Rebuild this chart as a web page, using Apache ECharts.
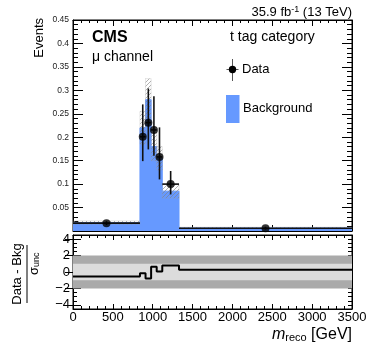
<!DOCTYPE html>
<html>
<head>
<meta charset="utf-8">
<script src="https://cdn.jsdelivr.net/npm/echarts@6/dist/echarts.min.js"></script>
<style>
  html, body { margin: 0; padding: 0; background: #fff; }
  #chart { width: 374px; height: 351px; }
</style>
</head>
<body>
<div id="chart"></div>
<script>
// bin edges in m_reco [GeV]
const binEdges = [0, 840, 910, 980, 1050, 1120, 1330, 3500];
// background prediction and its uncertainty per bin
const bkgValues = [0.018, 0.22, 0.28, 0.18, 0.155, 0.085, 0.0065];
const bkgUnc = [0.0035, 0.035, 0.045, 0.03, 0.025, 0.015, 0.0015];
// data points per bin
const dataValues = [0.0167, 0.201, 0.231, 0.2155, 0.158, 0.1, 0.006];
const dataErrUp = [0.004, 0.069, 0.073, 0.072, 0.063, 0.028, 0.003];
const dataErrDown = [0.004, 0.052, 0.057, 0.055, 0.048, 0.022, 0.003];
// (data - bkg) / sigma per bin
const pullValues = [-0.55, -0.15, -0.8, 0.65, 0.05, 0.78, 0.27];
// pull panel bands
const pullBands = [2, 1];
const ratioTickLabels = [-4, -2, 0, 2, 4];

const BLUE = '#6699ff';

function makeHatch() {
  const c = document.createElement('canvas');
  c.width = 4; c.height = 4;
  const ctx = c.getContext('2d');
  ctx.strokeStyle = 'rgba(130,130,130,0.7)';
  ctx.lineWidth = 0.9;
  ctx.beginPath();
  ctx.moveTo(-1, 5); ctx.lineTo(5, -1);
  ctx.moveTo(-1, 1); ctx.lineTo(1, -1);
  ctx.moveTo(3, 5); ctx.lineTo(5, 3);
  ctx.stroke();
  return c;
}

const bins = bkgValues.map((v, i) => ({ x0: binEdges[i], x1: binEdges[i + 1] }));

// step line data (left edges + last edge)
const bkgSteps = bkgValues.map((v, i) => [binEdges[i], v]);
bkgSteps.push([binEdges[binEdges.length - 1], bkgValues[bkgValues.length - 1]]);
const pullSteps = pullValues.map((v, i) => [binEdges[i], v]);
pullSteps.push([binEdges[binEdges.length - 1], pullValues[pullValues.length - 1]]);

const uncData = bins.map((b, i) => [b.x0, b.x1, bkgValues[i] - bkgUnc[i], bkgValues[i] + bkgUnc[i]]);
const errData = bins.map((b, i) => [b.x0, b.x1, (b.x0 + b.x1) / 2, dataValues[i],
  dataValues[i] - dataErrDown[i], dataValues[i] + dataErrUp[i]]);
const pointData = bins.map((b, i) => [(b.x0 + b.x1) / 2, dataValues[i]]);

const chart = echarts.init(document.getElementById('chart'));
const hatch = makeHatch();

const line = { show: true, onZero: false, lineStyle: { color: '#000', width: 1 } };

function xAx(grid, pos, labels, major, minor) {
  return {
    type: 'value', gridIndex: grid, position: pos, min: 0, max: 3500, interval: 500,
    axisLine: line, splitLine: { show: false },
    axisTick: { show: true, inside: true, length: major, lineStyle: { color: '#000' } },
    minorTick: { show: true, splitNumber: 5, length: minor, lineStyle: { color: '#000' } },
    axisLabel: labels ? {
      show: true, fontSize: 13, color: '#000', margin: 2, fontFamily: 'Liberation Sans',
      formatter: v => String(v)
    } : { show: false }
  };
}

const topY = (pos, labels) => ({
  type: 'value', gridIndex: 0, position: pos, min: 0, max: 0.45, interval: 0.05,
  axisLine: line, splitLine: { show: false },
  axisTick: { show: true, inside: true, length: 10, lineStyle: { color: '#000' } },
  minorTick: { show: true, splitNumber: 5, length: 5, lineStyle: { color: '#000' } },
  axisLabel: labels ? {
    show: true, fontSize: 8.5, color: '#222', margin: 4, fontFamily: 'Liberation Sans',
    formatter: v => (v === 0 ? '' : String(+v.toFixed(2)))
  } : { show: false }
});

// ratio y: minor ticks every 0.5 and major ticks via customValues
const ratioMinor = pos => ({
  type: 'value', gridIndex: 1, position: pos, min: -4.5, max: 4.5, interval: 0.5,
  axisLine: line, splitLine: { show: false },
  axisTick: { show: true, inside: true, length: 4, lineStyle: { color: '#000' } },
  axisLabel: { show: false }
});
const ratioMajor = (pos, labels) => ({
  type: 'value', gridIndex: 1, position: pos, min: -4.5, max: 4.5, interval: 0.5,
  axisLine: { show: false }, splitLine: { show: false },
  axisTick: { show: true, inside: true, length: 8, customValues: ratioTickLabels, lineStyle: { color: '#000' } },
  axisLabel: labels ? {
    show: true, fontSize: 13, color: '#000', margin: 3, fontFamily: 'Liberation Sans',
    customValues: ratioTickLabels, formatter: v => String(v).replace('-', '\u2212')
  } : { show: false }
});

const option = {
  animation: false,
  textStyle: { fontFamily: 'Liberation Sans' },
  grid: [
    { left: 73, top: 20, width: 279, height: 211, show: true, borderColor: '#000', borderWidth: 1, containLabel: false, outerBoundsMode: 'none' },
    { left: 73, top: 235, width: 279, height: 74, show: true, borderColor: '#000', borderWidth: 1, containLabel: false, outerBoundsMode: 'none' }
  ],
  xAxis: [
    xAx(0, 'bottom', false, 6, 3),
    xAx(0, 'top', false, 6, 3),
    xAx(1, 'bottom', true, 5, 3),
    xAx(1, 'top', false, 5, 3)
  ],
  yAxis: [
    topY('left', true),
    topY('right', false),
    ratioMinor('left'),
    ratioMinor('right'),
    ratioMajor('left', true),
    ratioMajor('right', false)
  ],
  series: [
    {
      name: 'Background', type: 'line', xAxisIndex: 0, yAxisIndex: 0, step: 'end',
      symbol: 'none', data: bkgSteps, z: 1,
      lineStyle: { color: BLUE, width: 1 },
      areaStyle: { color: BLUE, opacity: 1 }
    },
    {
      name: 'Unc', type: 'custom', xAxisIndex: 0, yAxisIndex: 0, data: uncData, z: 2,
      renderItem: (params, api) => {
        const p0 = api.coord([api.value(0), api.value(3)]);
        const p1 = api.coord([api.value(1), api.value(2)]);
        return {
          type: 'rect',
          shape: { x: p0[0], y: p0[1], width: p1[0] - p0[0], height: p1[1] - p0[1] },
          style: { fill: { image: hatch, repeat: 'repeat' }, stroke: 'rgba(160,160,160,0.5)', lineWidth: 0.5 }
        };
      }
    },
    {
      name: 'DataErr', type: 'custom', xAxisIndex: 0, yAxisIndex: 0, data: errData, z: 3,
      renderItem: (params, api) => {
        const xc = api.value(2), y = api.value(3);
        const top = api.coord([xc, api.value(5)]);
        const bot = api.coord([xc, api.value(4)]);
        const l = api.coord([api.value(0), y]);
        const r = api.coord([api.value(1), y]);
        return {
          type: 'group',
          children: [
            { type: 'line', shape: { x1: top[0], y1: top[1], x2: bot[0], y2: bot[1] }, style: { stroke: '#111', lineWidth: 1.6 } },
            { type: 'line', shape: { x1: l[0], y1: l[1], x2: r[0], y2: r[1] }, style: { stroke: '#111', lineWidth: 1.6 } }
          ]
        };
      }
    },
    {
      name: 'Data', type: 'scatter', xAxisIndex: 0, yAxisIndex: 0, data: pointData, z: 4,
      symbol: 'circle', symbolSize: 8, itemStyle: { color: '#000' }
    },
    {
      name: 'Pull', type: 'line', xAxisIndex: 2, yAxisIndex: 2, step: 'end',
      symbol: 'none', data: pullSteps, z: 3,
      lineStyle: { color: '#000', width: 2 },
      markArea: {
        silent: true,
        data: pullBands.map((b, i) => [
          { yAxis: -b, itemStyle: { color: i === 0 ? '#aaaaaa' : '#dcdcdc' } },
          { yAxis: b }
        ])
      }
    }
  ],
  graphic: [
    { type: 'text', x: 352, y: 12, style: {
        text: '35.9 fb{sup|-1} (13 TeV)', align: 'right', verticalAlign: 'middle',
        font: '13px Liberation Sans', fill: '#000',
        rich: { sup: { fontSize: 9, verticalAlign: 'top', padding: [0, 0, 5, 0] } } } },
    { type: 'text', x: 92, y: 38, style: { text: 'CMS', font: 'bold 16px Liberation Sans', fill: '#000', verticalAlign: 'middle' } },
    { type: 'text', x: 92, y: 57, style: { text: '\u03bc channel', font: '14px Liberation Sans', fill: '#000', verticalAlign: 'middle' } },
    { type: 'text', x: 230, y: 37, style: { text: 't tag category', font: '14px Liberation Sans', fill: '#000', verticalAlign: 'middle' } },
    // legend
    { type: 'line', shape: { x1: 232.5, y1: 59, x2: 232.5, y2: 81 }, style: { stroke: '#555', lineWidth: 1 } },
    { type: 'line', shape: { x1: 226.5, y1: 69.5, x2: 238.5, y2: 69.5 }, style: { stroke: '#555', lineWidth: 1 } },
    { type: 'circle', shape: { cx: 232.5, cy: 69.5, r: 3.7 }, style: { fill: '#000' } },
    { type: 'text', x: 242, y: 69.5, style: { text: 'Data', font: '13px Liberation Sans', fill: '#000', verticalAlign: 'middle' } },
    { type: 'rect', shape: { x: 226, y: 95, width: 13.5, height: 28 }, style: { fill: BLUE } },
    { type: 'text', x: 243, y: 108.5, style: { text: 'Background', font: '13px Liberation Sans', fill: '#000', verticalAlign: 'middle' } },
    // axis titles
    { type: 'text', x: 39, y: 18, rotation: Math.PI / 2, style: {
        text: 'Events', font: '13px Liberation Sans', fill: '#000', align: 'right', verticalAlign: 'middle' } },
    { type: 'group', x: 27, y: 274, rotation: Math.PI / 2, children: [
        { type: 'text', x: 0, y: -10, style: { text: 'Data - Bkg', font: '13px Liberation Sans', fill: '#000', align: 'center', verticalAlign: 'middle' } },
        { type: 'line', shape: { x1: -29, y1: 0, x2: 29, y2: 0 }, style: { stroke: '#000', lineWidth: 1 } },
        { type: 'text', x: -1, y: 7, style: { text: '\u03c3', font: '13px Liberation Sans', fill: '#000', align: 'left', verticalAlign: 'middle' } },
        { type: 'text', x: 7, y: 10, style: { text: 'unc', font: '9px Liberation Sans', fill: '#000', align: 'left', verticalAlign: 'middle' } }
      ] },
    { type: 'text', x: 352, y: 335, style: {
        text: '{m|m}{sub|reco} [GeV]', align: 'right', verticalAlign: 'middle',
        font: '16px Liberation Sans', fill: '#000',
        rich: {
          m: { fontStyle: 'italic', fontSize: 16 },
          sub: { fontSize: 11, verticalAlign: 'bottom', padding: [6, 0, 0, 0] }
        } } }
  ]
};

chart.setOption(option);
</script>
</body>
</html>
